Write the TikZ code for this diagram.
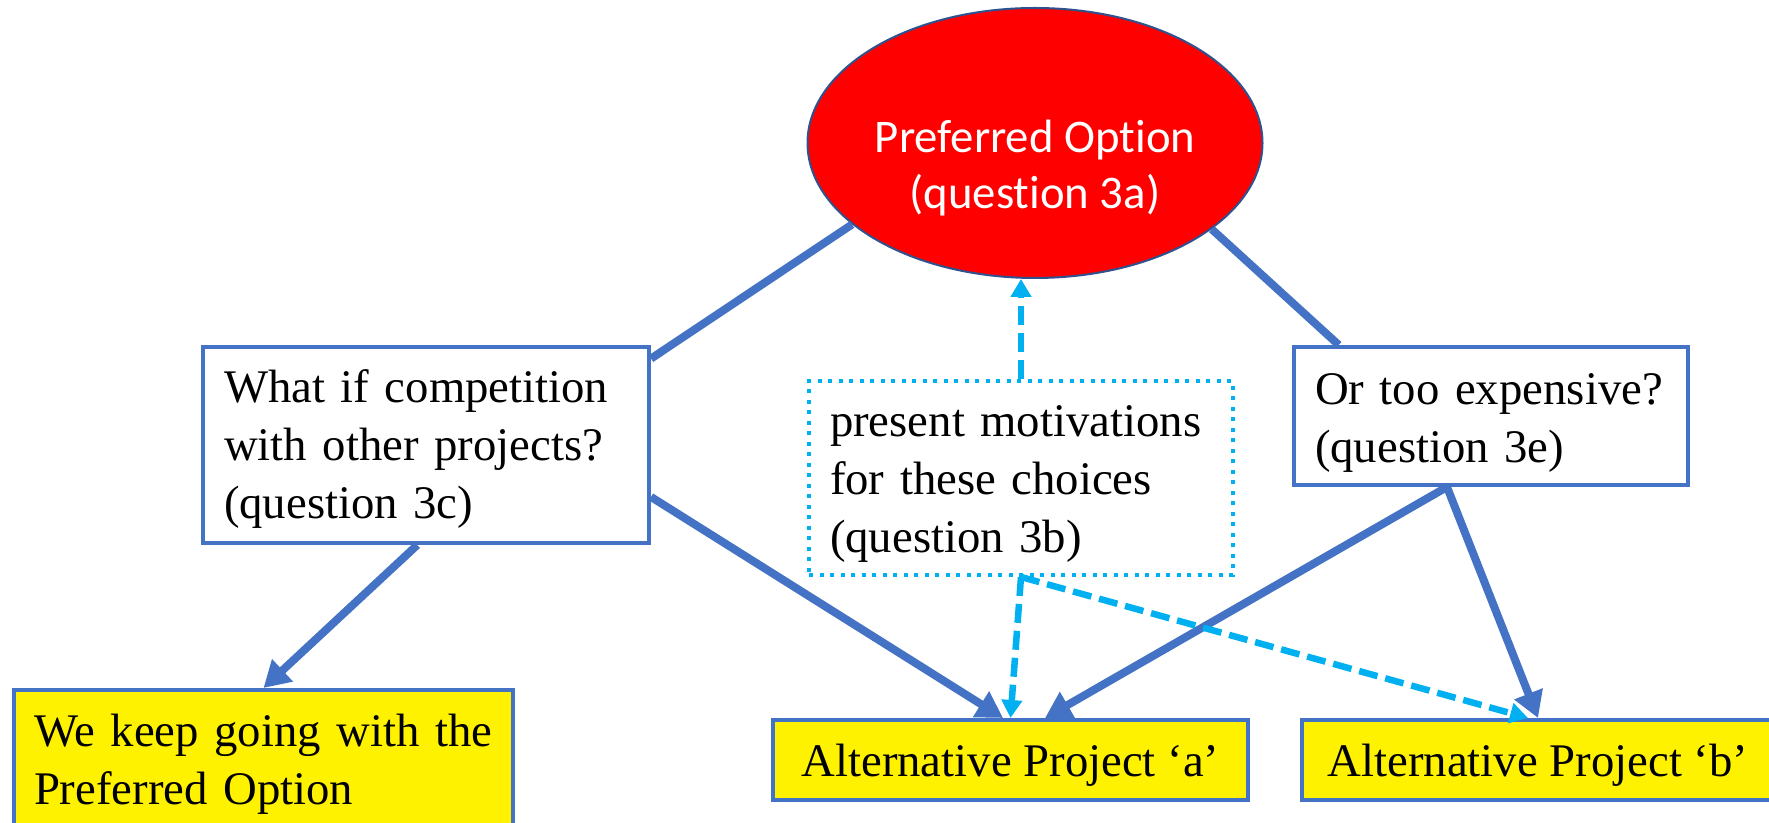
\documentclass[tikz,border=0pt]{standalone}
\usepackage{fontspec}
\setmainfont{Liberation Serif}
\newfontfamily\calibri[Ligatures=NoCommon]{Carlito}
\usetikzlibrary{shapes.geometric,arrows.meta}

\definecolor{lineblue}{HTML}{4472C4}
\definecolor{rimblue}{HTML}{2F528F}
\definecolor{hintcyan}{HTML}{00B0F0}

\begin{document}
\begin{tikzpicture}[
        box/.style={rectangle, draw=lineblue, line width=0.08cm, inner xsep=0.42cm,
                    align=left, text height=0.7cm, font=\fontsize{26.6}{33}\selectfont},
        altbox/.style={rectangle, draw=lineblue, line width=0.08cm, fill=yellow,
                    minimum height=1.6cm, text height=0.70cm, text depth=0.02cm,
                    font=\fontsize{26.6}{33}\selectfont},
        link/.style={lineblue, line width=0.16cm},
        hint/.style={hintcyan, line width=0.13cm, dash pattern=on 0.38cm off 0.16cm},
        tip/.style={-{Triangle[length=0.52cm,width=0.58cm]}},
        smalltip/.style={-{Triangle[length=0.36cm,width=0.4cm]}}
    ]
    \useasboundingbox (0,0) rectangle (35.38,16.46);

    % preferred option
    \node[ellipse, fill=red, draw=rimblue, line width=0.04cm, inner sep=0,
          minimum width=9.1cm, minimum height=5.4cm] (pref) at (20.70,13.60) {};
    \node[text=white, align=center, font=\calibri\fontsize{26.6}{32}\selectfont]
          (preftxt) at (20.70,13.10) {Preferred Option\\(question 3a)};

    % questions
    \node[box, text width=8.08cm, text depth=2.38cm, minimum height=3.92cm] (q3c) at (8.52,7.56)
          {What~if~competition\\with~other~projects?\\(question 3c)};
    \node[box, text width=7.64cm, text depth=2.34cm, minimum height=3.88cm, draw=hintcyan,
          dash pattern=on 0.08cm off 0.13cm] (q3b) at (20.42,6.90)
          {present~motivations\\for~these~choices\\(question 3b)};
    \node[box, text width=7.04cm, text depth=1.14cm, minimum height=2.76cm] (q3e) at (29.82,8.14)
          {Or~too~expensive?\\(question 3e)};

    % outcomes
    \node[box, fill=yellow, inner xsep=0.4cm, text width=9.18cm, text depth=1.44cm,
          minimum height=3.02cm] (keep) at (5.27,1.15) {We~keep~going~with~the\\Preferred~Option};
    \node[altbox, minimum width=9.5cm] (alta) at (20.21,1.26) {Alternative Project ‘a’};
    \node[altbox, minimum width=9.44cm] (altb) at (30.76,1.26) {Alternative Project ‘b’};

    \draw[link] (pref.204) -- (q3c.21);
    \draw[link] (pref.334) -- (q3e.155);
    \draw[link, tip] (q3c.265) -- (keep.north);
    \draw[link, tip] (q3c.347) -- ([xshift=-0.15cm]alta.north);
    \draw[link, tip] ([xshift=-0.88cm]q3e.south) -- ([xshift=0.69cm]alta.north);
    \draw[link, tip] ([xshift=-0.88cm]q3e.south) -- (altb.north);

    \draw[hint, smalltip] (q3b.north) -- (q3b.north |- pref.south);
    \draw[hint, smalltip] (q3b.south) -- (alta.north);
    \draw[hint, smalltip] (q3b.south) -- ([xshift=-0.2cm]altb.north);

\end{tikzpicture}
\end{document}
